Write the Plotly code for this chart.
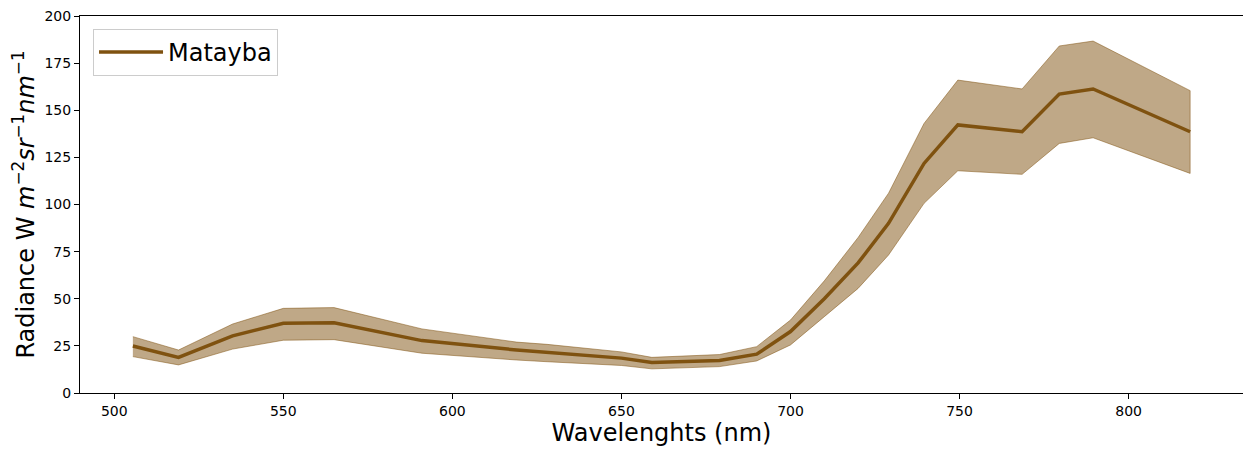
import plotly.graph_objects as go

# band centres (nm) and radiance
wavelengths = [505.5, 519, 535, 550, 565, 591, 619, 628, 650, 659, 679, 690,
               700, 710, 720, 729, 739.5, 749.5, 768.5, 779.5, 789.5, 818.2]
radiance_mean = [24.9, 18.9, 30.3, 37.0, 37.3, 27.8, 22.8, 21.6, 18.5, 16.2, 17.3, 20.6,
                 32.6, 50.0, 69.0, 90.0, 121.8, 142.2, 138.6, 158.6, 161.3, 138.6]
radiance_low = [19.3, 14.9, 23.3, 28.0, 28.3, 21.1, 17.5, 16.6, 14.6, 12.8, 14.0, 17.0,
                25.5, 40.5, 55.5, 73.2, 100.6, 117.9, 116.0, 132.4, 135.4, 116.5]
radiance_high = [29.9, 22.8, 36.6, 44.9, 45.3, 34.0, 27.0, 25.8, 21.8, 18.9, 20.4, 24.6,
                 38.7, 59.5, 82.5, 106.0, 143.0, 166.0, 161.3, 184.1, 186.7, 160.4]
species = 'Matayba'

line_color = 'rgb(127,82,16)'
band_color = 'rgba(127,82,16,0.5)'
font_family = 'DejaVu Sans'

fig = go.Figure()

# shaded band as a closed polygon
fig.add_trace(go.Scatter(x=wavelengths + wavelengths[::-1],
                         y=radiance_high + radiance_low[::-1],
                         fill='toself',
                         fillcolor=band_color,
                         line=dict(color=band_color, width=1),
                         mode='lines',
                         hoverinfo='skip',
                         showlegend=False))

fig.add_trace(go.Scatter(x=wavelengths,
                         y=radiance_mean,
                         mode='lines',
                         name=species,
                         line=dict(color=line_color, width=3.5)))

span = max(wavelengths) - min(wavelengths)
x_range = [min(wavelengths) - 0.05 * span, max(wavelengths) + 0.05 * span]

# the page body sits 8px in from the window, so the figure is 8px smaller
fig.update_layout(width=1243,
                  height=448,
                  margin=dict(l=72, r=8, t=8, b=63, pad=0, autoexpand=False),
                  plot_bgcolor='white',
                  paper_bgcolor='white',
                  font=dict(family=font_family, color='black', size=14),
                  legend=dict(x=0.0112, y=0.9655, xanchor='left', yanchor='top',
                              bordercolor='rgb(204,204,204)', borderwidth=1,
                              bgcolor='rgba(255,255,255,0.8)',
                              font=dict(size=24, family=font_family),
                              itemwidth=64))

fig.update_xaxes(range=x_range,
                 tickvals=[500, 550, 600, 650, 700, 750, 800],
                 ticks='outside', ticklen=5, tickcolor='black',
                 showline=True, linecolor='black', linewidth=1, mirror=True,
                 showgrid=False, zeroline=False, automargin=False,
                 ticklabeloverflow='allow',
                 tickfont=dict(size=14),
                 title=dict(text='Wavelenghts (nm)', font=dict(size=24), standoff=6))

fig.update_yaxes(range=[0, 200],
                 tickvals=[0, 25, 50, 75, 100, 125, 150, 175, 200],
                 ticks='outside', ticklen=5, tickcolor='black',
                 showline=True, linecolor='black', linewidth=1, mirror=True,
                 showgrid=False, zeroline=False, automargin=False,
                 ticklabeloverflow='allow',
                 tickfont=dict(size=14),
                 title=dict(text='Radiance W <i>m</i><sup>\u22122</sup><i>sr</i><sup>\u22121</sup><i>nm</i><sup>\u22121</sup>',
                            font=dict(size=24), standoff=13))

fig.write_html("out.html")
